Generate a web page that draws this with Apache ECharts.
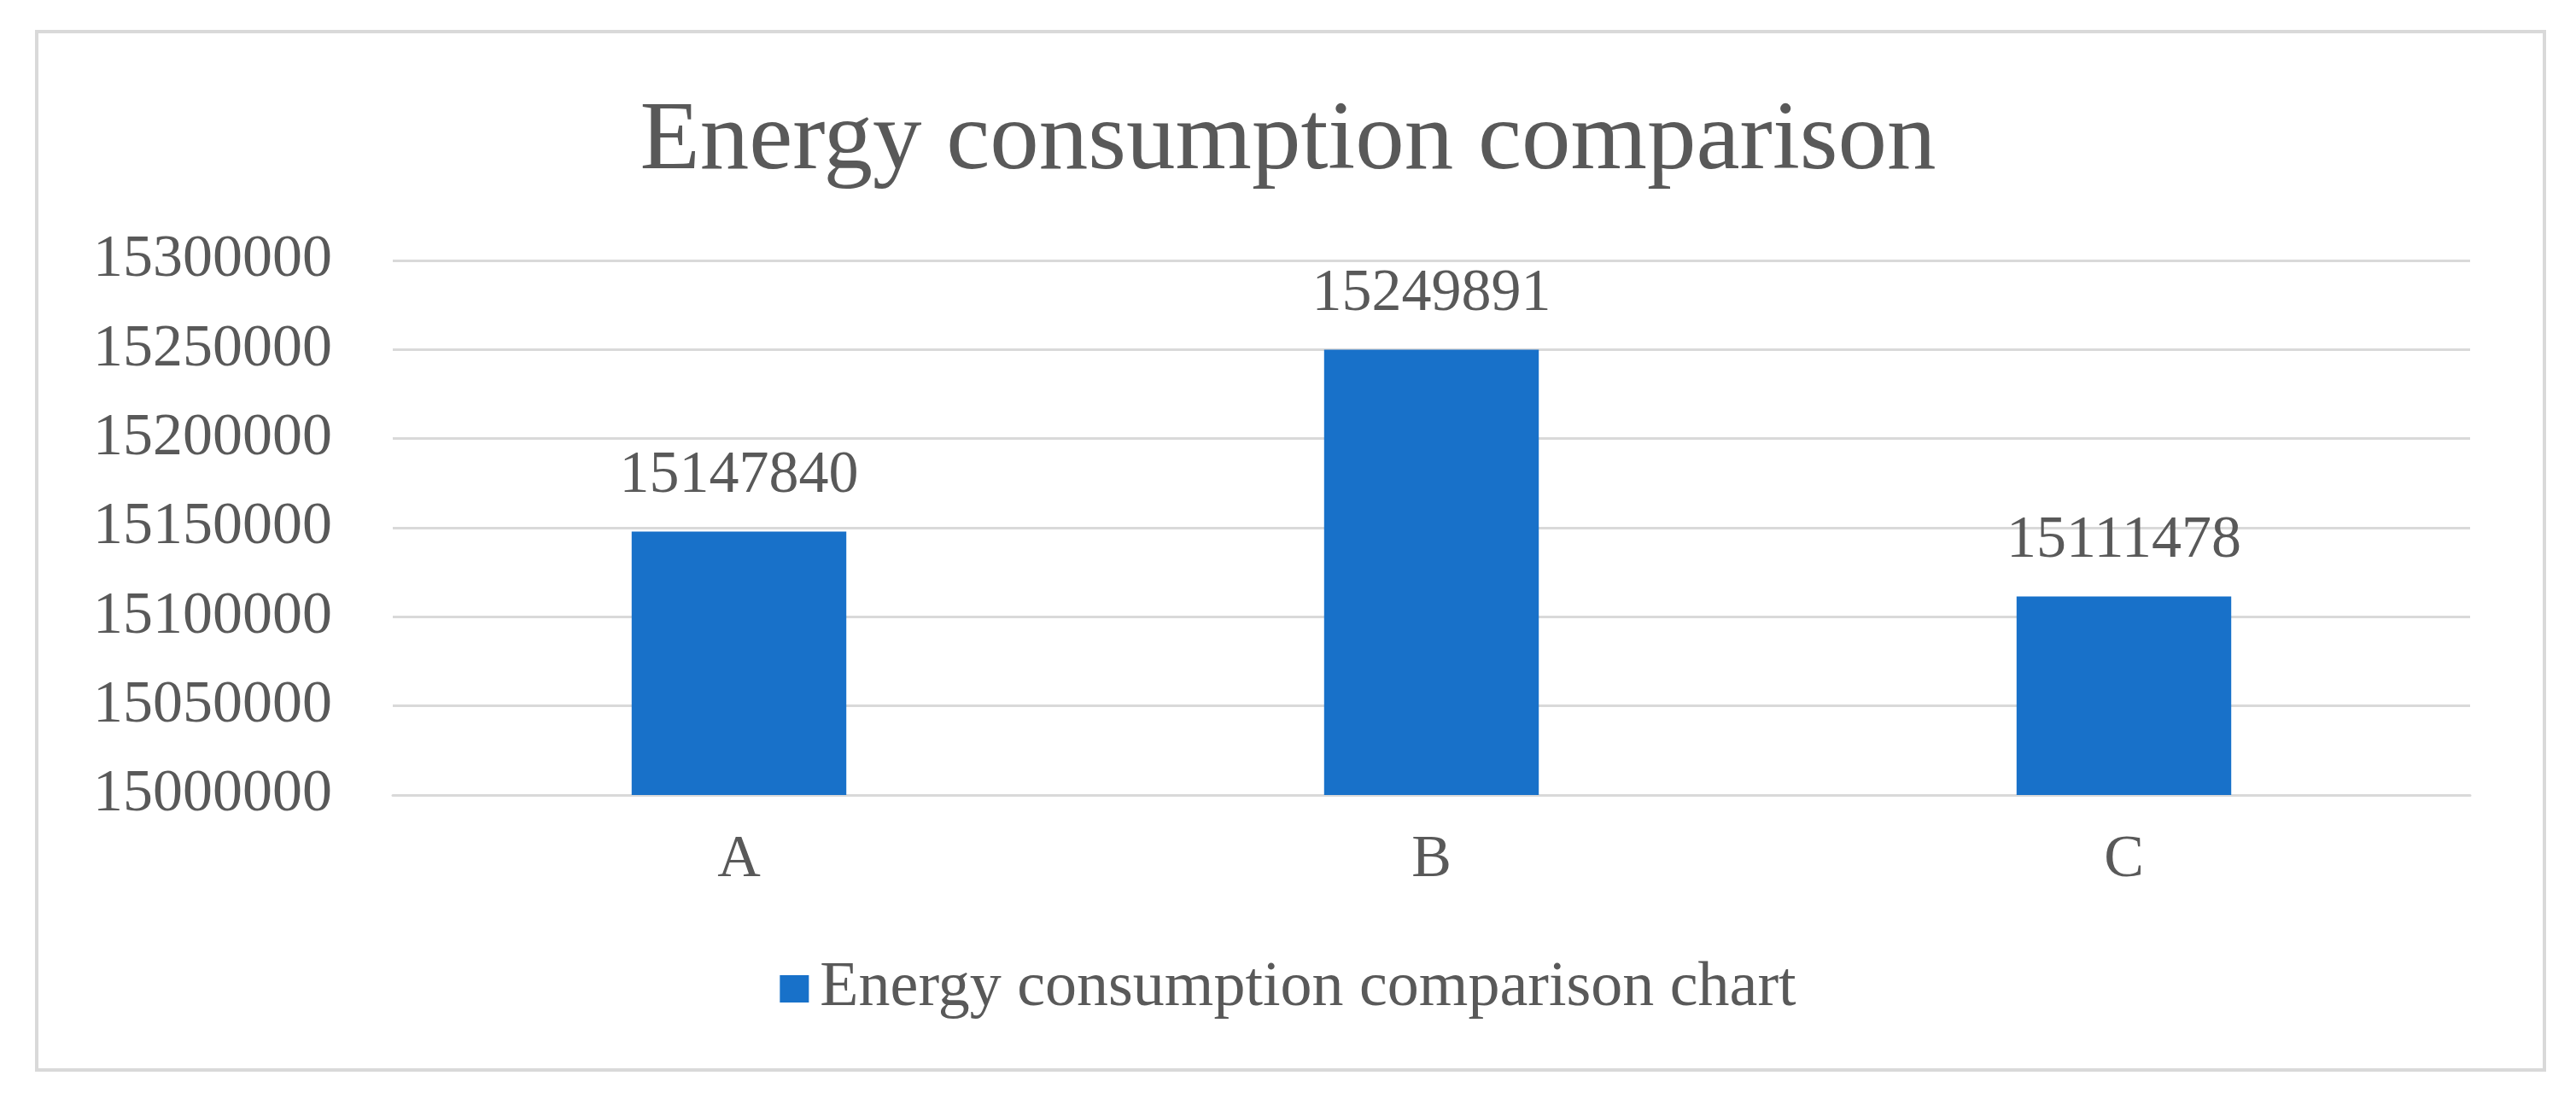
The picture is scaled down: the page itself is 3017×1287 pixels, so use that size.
<!DOCTYPE html>
<html>
<head>
<meta charset="utf-8">
<script src="https://cdn.jsdelivr.net/npm/echarts@6/dist/echarts.min.js"></script>
<style>
html,body{margin:0;padding:0;background:#fff;}
#chart{width:3017px;height:1287px;}
</style>
</head>
<body>
<div id="chart"></div>
<script>
const categories = ['A', 'B', 'C'];
const energyValues = [15147840, 15249891, 15111478];
const seriesName = 'Energy consumption comparison chart';
const chartTitle = 'Energy consumption comparison';
const yMin = 15000000, yMax = 15300000, yStep = 50000;

const FONT = "'Liberation Serif', 'Times New Roman', serif";
const TXT = '#595959';
const GRID = '#d9d9d9';

const chart = echarts.init(document.getElementById('chart'));
chart.setOption({
  backgroundColor: '#ffffff',
  animation: false,
  graphic: [{
    type: 'rect',
    shape: { x: 43, y: 37, width: 2937, height: 1216 },
    style: { fill: 'none', stroke: GRID, lineWidth: 4 },
    silent: true
  }],
  title: {
    text: chartTitle,
    left: 'center',
    top: 104,
    textStyle: { fontFamily: FONT, fontSize: 115, fontWeight: 'normal', color: TXT }
  },
  legend: {
    data: [seriesName],
    left: 'center',
    top: 1116,
    icon: 'rect',
    itemWidth: 34,
    itemHeight: 32,
    textStyle: { fontFamily: FONT, fontSize: 74, color: TXT, padding: [0,0,0,8] }
  },
  grid: { left: 460, right: 124, top: 305, bottom: 356, containLabel: false },
  xAxis: {
    type: 'category',
    data: categories,
    axisLine: { show: true, lineStyle: { color: GRID, width: 3 } },
    axisTick: { show: false },
    axisLabel: { fontFamily: FONT, fontSize: 70, color: TXT, margin: 42 }
  },
  yAxis: {
    type: 'value',
    min: yMin,
    max: yMax,
    interval: yStep,
    axisLine: { show: false },
    axisTick: { show: false },
    splitLine: { lineStyle: { color: GRID, width: 3 } },
    axisLabel: {
      fontFamily: FONT, fontSize: 70, color: TXT, margin: 71,
      formatter: function (v) { return String(v); }
    }
  },
  series: [{
    name: seriesName,
    type: 'bar',
    data: energyValues,
    barWidth: '31%',
    itemStyle: { color: '#1871C9' },
    label: {
      show: true,
      position: 'top',
      distance: 30,
      fontFamily: FONT,
      fontSize: 70,
      color: TXT
    }
  }]
});
</script>
</body>
</html>
